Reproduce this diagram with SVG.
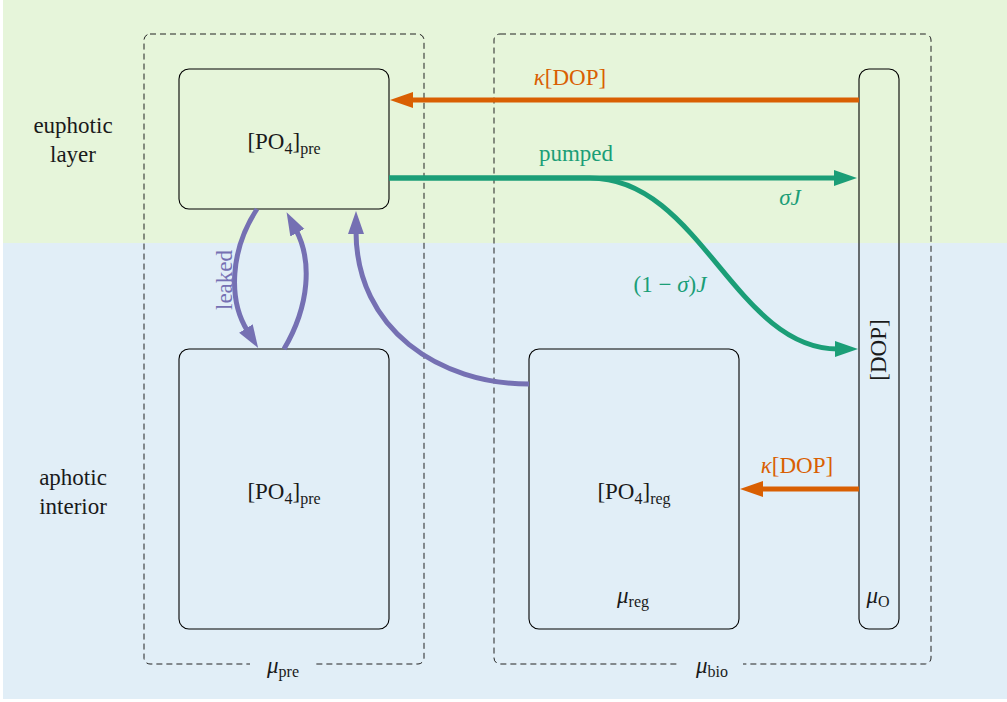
<svg xmlns="http://www.w3.org/2000/svg" width="1007" height="702" viewBox="0 0 1007 702">
<style>
text{font-family:'Liberation Serif','DejaVu Serif','Times New Roman',serif;font-size:23px;fill:#1a1a1a}
.it{font-style:italic}
.sub{font-size:16px}
.node{fill:none;stroke:#000;stroke-width:1.1}
.group{fill:none;stroke:#222;stroke-width:1;stroke-dasharray:6 4}
.or{stroke:#d95f02;fill:none;stroke-width:5}
.gr{stroke:#1b9e77;fill:none;stroke-width:5}
.pu{stroke:#7570b3;fill:none;stroke-width:5}
.tor{fill:#d95f02}
.tgr{fill:#1b9e77}
.tpu{fill:#7570b3}
</style>
<defs>
<marker id="ahO" markerUnits="userSpaceOnUse" markerWidth="30" markerHeight="20" refX="3" refY="0" viewBox="0 -10 30 20" orient="auto"><path d="M0,-8 L23,0 L0,8 z" fill="#d95f02"/></marker>
<marker id="ahG" markerUnits="userSpaceOnUse" markerWidth="30" markerHeight="20" refX="3" refY="0" viewBox="0 -10 30 20" orient="auto"><path d="M0,-8 L23,0 L0,8 z" fill="#1b9e77"/></marker>
<marker id="ahP" markerUnits="userSpaceOnUse" markerWidth="30" markerHeight="20" refX="3" refY="0" viewBox="0 -10 30 20" orient="auto"><path d="M0,-8 L23,0 L0,8 z" fill="#7570b3"/></marker>
</defs>
<g id="background">
<rect x="3" y="0" width="1004" height="243" fill="#e6f5da"/>
<rect x="3" y="243" width="1004" height="456" fill="#e1eef7"/>
<text x="73" y="133" text-anchor="middle">euphotic</text>
<text x="73" y="162" text-anchor="middle">layer</text>
<text x="73" y="485" text-anchor="middle">aphotic</text>
<text x="73" y="514" text-anchor="middle">interior</text>
</g>
<g id="group-pre">
<rect class="group" x="144" y="34" width="280" height="630" rx="6"/>
<rect x="250" y="658" width="63" height="26" fill="#e1eef7"/>
<text x="283" y="673" text-anchor="middle"><tspan class="it">μ</tspan><tspan class="sub" dy="4">pre</tspan></text>
</g>
<g id="group-bio">
<rect class="group" x="494" y="34" width="437" height="630" rx="6"/>
<rect x="680" y="658" width="63" height="26" fill="#e1eef7"/>
<text x="712" y="673" text-anchor="middle"><tspan class="it">μ</tspan><tspan class="sub" dy="4">bio</tspan></text>
</g>
<g id="node-pre-top">
<rect class="node" x="179" y="69" width="210" height="140" rx="10"/>
<text x="284" y="149" text-anchor="middle">[PO<tspan class="sub" dy="5">4</tspan><tspan dy="-5">]</tspan><tspan class="sub" dy="5">pre</tspan></text>
</g>
<g id="node-pre-bottom">
<rect class="node" x="179" y="349" width="210" height="280" rx="10"/>
<text x="284" y="499" text-anchor="middle">[PO<tspan class="sub" dy="5">4</tspan><tspan dy="-5">]</tspan><tspan class="sub" dy="5">pre</tspan></text>
</g>
<g id="node-reg">
<rect class="node" x="529" y="349" width="210" height="280" rx="10"/>
<text x="634" y="499" text-anchor="middle">[PO<tspan class="sub" dy="5">4</tspan><tspan dy="-5">]</tspan><tspan class="sub" dy="5">reg</tspan></text>
<text x="633" y="603" text-anchor="middle"><tspan class="it">μ</tspan><tspan class="sub" dy="4">reg</tspan></text>
</g>
<g id="node-dop">
<rect class="node" x="859" y="69" width="40" height="560" rx="10"/>
<text transform="translate(886,350) rotate(-90)" text-anchor="middle">[DOP]</text>
<text x="878" y="603" text-anchor="middle"><tspan class="it">μ</tspan><tspan class="sub" dy="4">O</tspan></text>
</g>
<g id="connectors">
<path class="or" d="M859,100 L410,100" marker-end="url(#ahO)"/>
<text class="tor" x="570" y="85" text-anchor="middle"><tspan class="it">κ</tspan>[DOP]</text>
<path class="gr" d="M389,178 L837,178" marker-end="url(#ahG)"/>
<path class="gr" d="M389,178 L590,178 C700,178 735,349 838,349" marker-end="url(#ahG)"/>
<text class="tgr" x="576" y="161" text-anchor="middle">pumped</text>
<text class="tgr it" x="790" y="205" text-anchor="middle">σJ</text>
<text class="tgr" x="670" y="292" text-anchor="middle">(1 − <tspan class="it">σ</tspan>)<tspan class="it">J</tspan></text>
<path class="or" d="M859,489 L760,489" marker-end="url(#ahO)"/>
<text class="tor" x="797" y="473" text-anchor="middle"><tspan class="it">κ</tspan>[DOP]</text>
<path class="pu" d="M257,209 C230,250 228,300 247.5,331" marker-end="url(#ahP)"/>
<text class="tpu" transform="translate(232,280) rotate(-90)" text-anchor="middle">leaked</text>
<path class="pu" d="M284,349 C310,305 312,260 296,230" marker-end="url(#ahP)"/>
<path class="pu" d="M529,384 C440,384 356,330 356,231" marker-end="url(#ahP)"/>
</g>
</svg>
